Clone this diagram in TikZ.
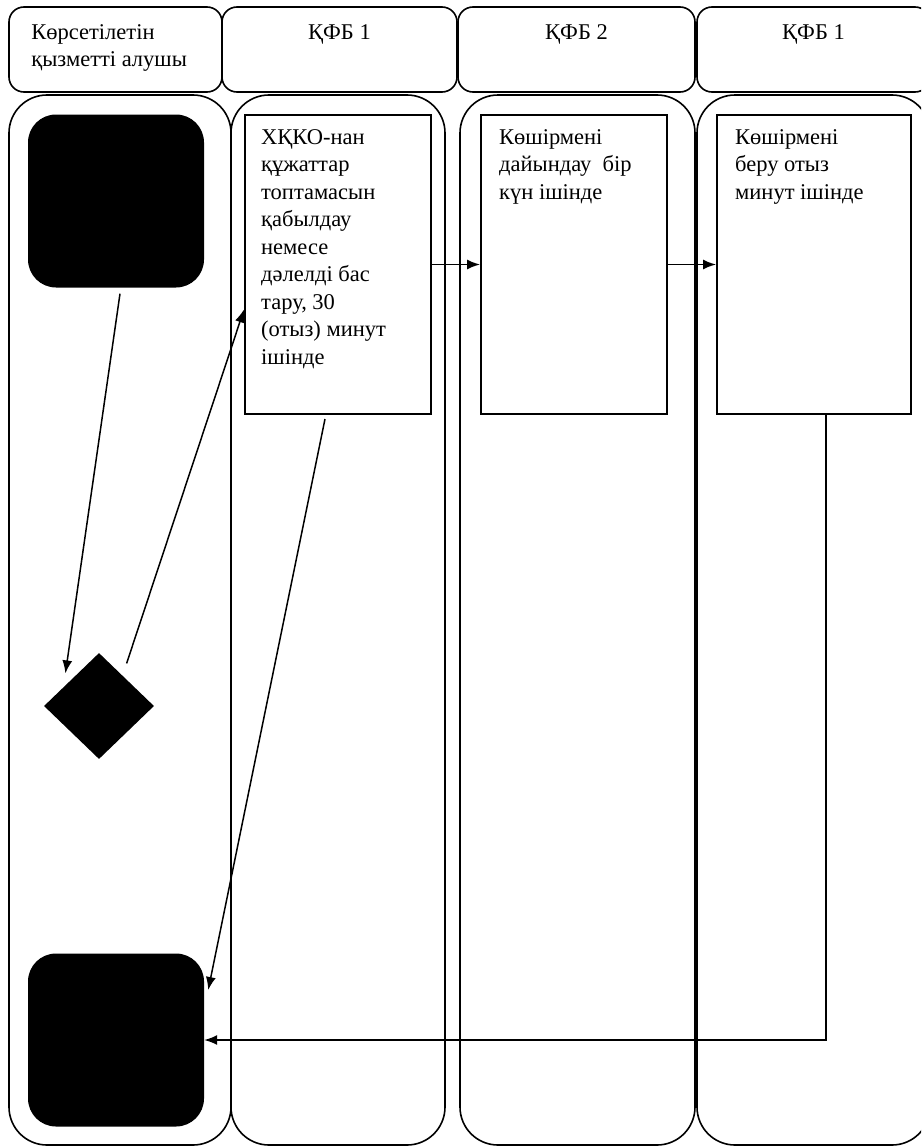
\documentclass[tikz,border=0pt]{standalone}
\usepackage{fontspec}
\setmainfont{Liberation Serif}
\usetikzlibrary{arrows.meta,shapes.geometric,positioning}

\begin{document}
\begin{tikzpicture}[x=1pt, y=-1pt, >={Latex[length=13pt, width=10pt]},
    hdr/.style={draw, line width=1.6pt, rounded corners=15pt, minimum height=85pt},
    lane/.style={draw, line width=1.6pt, rounded corners=38pt, minimum height=1050pt},
    stepbox/.style={draw, line width=2pt, minimum height=299pt},
    term/.style={fill=black, rounded corners=28pt, minimum width=176pt, minimum height=173pt},
    txt/.style={inner sep=0pt, align=left, font=\fontsize{22.5}{27.5}\selectfont},
    flow/.style={->, line width=1.5pt}]
    \useasboundingbox (0,0) rectangle (921,1148);
    \clip (0,0) rectangle (921,1148);

    % Header row
    \node[hdr, minimum width=213pt] (Hdr1) at (115.5,49.5) {};
    \node[hdr, minimum width=235pt] (Hdr2) at (339.5,49.5) {};
    \node[hdr, minimum width=237pt] (Hdr3) at (576.5,49.5) {};
    \node[hdr, minimum width=233pt] (Hdr4) at (813.5,49.5) {};
    \node[txt, below right=18pt and 23pt of Hdr1.north west] (Hdr1Text) {Көрсетілетін\\қызметті алушы};
    \node[txt, below=18pt of Hdr2.north] (Hdr2Text) {ҚФБ 1};
    \node[txt, below=18pt of Hdr3.north] (Hdr3Text) {ҚФБ 2};
    \node[txt, below=18pt of Hdr4.north] (Hdr4Text) {ҚФБ 1};

    % Lanes
    \node[lane, minimum width=222pt] (Lane1) at (120,620) {};
    \node[lane, minimum width=214pt] (Lane2) at (338,620) {};
    \node[lane, minimum width=235pt] (Lane3) at (577.5,620) {};
    \node[lane, minimum width=233pt] (Lane4) at (813.5,620) {};

    % Steps
    \node[term] (Start) at (116,201) {};
    \node[diamond, fill=black, inner sep=0pt, minimum width=110pt, minimum height=106pt] (Check) at (99,706) {};
    \node[term] (Finish) at (116,1040) {};
    \node[stepbox, minimum width=186pt] (Recv) at (338,264.5) {};
    \node[stepbox, minimum width=186pt] (Prep) at (574,264.5) {};
    \node[stepbox, minimum width=194pt] (Issue) at (814,264.5) {};

    % Texts in the steps
    \node[txt, below right=15pt and 17pt of Recv.north west] (RecvText)
        {ХҚКО-нан\\құжаттар\\топтамасын\\қабылдау\\немесе\\дәлелді бас\\тару, 30\\(отыз) минут\\ішінде};
    \node[txt, below right=15pt and 19pt of Prep.north west] (PrepText)
        {Көшірмені\\дайындау\ \ бір\\күн ішінде};
    \node[txt, below right=15pt and 19pt of Issue.north west] (IssueText)
        {Көшірмені\\беру отыз\\минут ішінде};

    % Arrows
    \draw[flow] ([xshift=4pt, yshift=-6pt]Start.south) -- ([xshift=-6pt, yshift=6pt]Check.north west);
    \draw[flow] ([yshift=16pt]Check.north east) -- ([yshift=-45pt]Recv.west);
    \draw[flow] (Recv) -- (Prep);
    \draw[flow] (Prep) -- (Issue);
    \draw[flow] ([xshift=-13pt, yshift=-4pt]Recv.south) -- ([xshift=4pt, yshift=50pt]Finish.east);
    \draw[flow] ([xshift=12pt]Issue.south) |- (Finish.east);

\end{tikzpicture}
\end{document}
